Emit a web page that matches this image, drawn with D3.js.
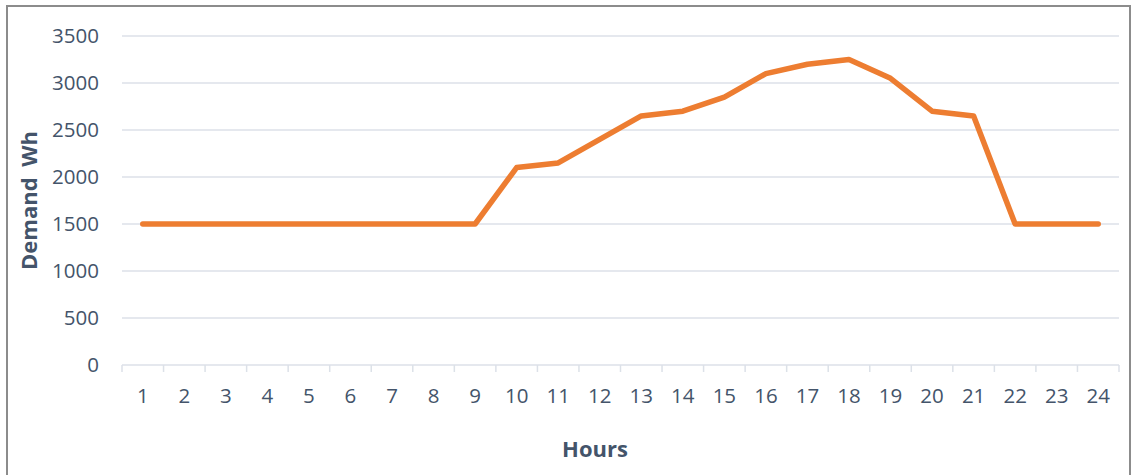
<!DOCTYPE html>
<html>
<head>
<meta charset="utf-8">
<script src="https://cdn.jsdelivr.net/npm/d3@7/dist/d3.min.js"></script>
<style>
  html, body { margin: 0; padding: 0; background: #fff; }
  svg { display: block; }
</style>
</head>
<body>
<svg id="chart" width="1131" height="475"></svg>
<script>
// Hourly demand profile (Wh)
const hours = ["1","2","3","4","5","6","7","8","9","10","11","12",
               "13","14","15","16","17","18","19","20","21","22","23","24"];
const demand = [1500,1500,1500,1500,1500,1500,1500,1500,1500,2100,2150,2400,
                2650,2700,2850,3100,3200,3250,3050,2700,2650,1500,1500,1500];
const yTicks = [0,500,1000,1500,2000,2500,3000,3500];

const W = 1131, H = 475;
const margin = { left: 122, right: 12, top: 36, bottom: 110 };
const textColor = "#44546A";
const gridColor = "#DCE1E8";
const font = "'Open Sans', sans-serif";

const svg = d3.select("#chart");

// outer frame
svg.append("rect")
  .attr("x", 7).attr("y", 6)
  .attr("width", 1123).attr("height", 480)
  .attr("fill", "none")
  .attr("stroke", "#8C8C8C")
  .attr("stroke-width", 2);

const x = d3.scaleBand().domain(hours).range([margin.left, W - margin.right]);
const y = d3.scaleLinear().domain([0, 3500]).range([H - margin.bottom, margin.top]);

// horizontal gridlines
svg.append("g")
  .selectAll("line")
  .data(yTicks.filter(d => d > 0))
  .join("line")
  .attr("x1", margin.left).attr("x2", W - margin.right)
  .attr("y1", d => y(d)).attr("y2", d => y(d))
  .attr("stroke", gridColor).attr("stroke-width", 1.5);

// y axis labels
const yAxis = svg.append("g")
  .attr("transform", `translate(${margin.left},0)`)
  .call(d3.axisLeft(y).tickValues(yTicks).tickSize(0).tickPadding(23).tickFormat(d3.format("d")));
yAxis.select(".domain").remove();
yAxis.selectAll("text")
  .attr("fill", textColor).style("font-family", font).style("font-size", "20.5px");

// x axis with ticks at band edges
const xAxisG = svg.append("g")
  .attr("transform", `translate(0,${y(0)})`);
xAxisG.append("line")
  .attr("x1", margin.left).attr("x2", W - margin.right)
  .attr("y1", 0).attr("y2", 0)
  .attr("stroke", gridColor).attr("stroke-width", 1.5);
const edges = hours.map(h => x(h)).concat([x(hours[hours.length - 1]) + x.bandwidth()]);
xAxisG.selectAll("line.tick")
  .data(edges)
  .join("line")
  .attr("class", "tick")
  .attr("x1", d => d).attr("x2", d => d)
  .attr("y1", 0).attr("y2", 7)
  .attr("stroke", gridColor).attr("stroke-width", 1.5);
xAxisG.selectAll("text")
  .data(hours)
  .join("text")
  .attr("x", d => x(d) + x.bandwidth() / 2)
  .attr("y", 38)
  .attr("text-anchor", "middle")
  .attr("fill", textColor)
  .style("font-family", font).style("font-size", "20.5px")
  .text(d => d);

// demand line
const line = d3.line()
  .x((d, i) => x(hours[i]) + x.bandwidth() / 2)
  .y(d => y(d));
svg.append("path")
  .datum(demand)
  .attr("d", line)
  .attr("fill", "none")
  .attr("stroke", "#ED7D31")
  .attr("stroke-width", 5.5)
  .attr("stroke-linejoin", "round")
  .attr("stroke-linecap", "round");

// axis titles
svg.append("text")
  .attr("x", 595).attr("y", 457)
  .attr("text-anchor", "middle")
  .attr("fill", textColor)
  .style("font-family", font).style("font-size", "22px").style("font-weight", "bold")
  .text("Hours");

svg.append("text")
  .attr("transform", `translate(37,${(y(0) + y(3500)) / 2}) rotate(-90)`)
  .attr("text-anchor", "middle")
  .attr("fill", textColor)
  .style("font-family", font).style("font-size", "22px").style("font-weight", "bold")
  .style("word-spacing", "5px")
  .text("Demand Wh");
</script>
</body>
</html>
